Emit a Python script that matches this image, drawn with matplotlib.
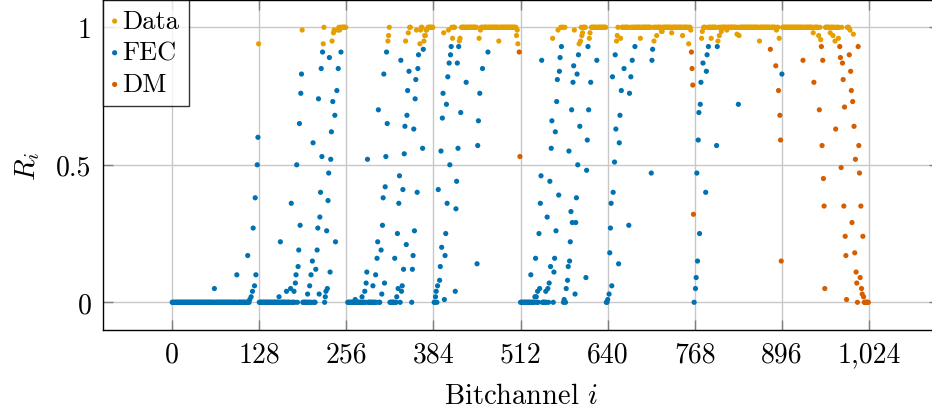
import numpy as np
import matplotlib
matplotlib.use("Agg")
import matplotlib.pyplot as plt

# ---- reliability of the N = 1024 bit-channels ----
N = 1024

# index ranges (inclusive) whose channels sit at R = 0 (frozen / FEC)
fec_zero_runs = [(0, 113), (128, 184), (189, 211), (222, 227), (258, 305),
                 (320, 329), (335, 335), (352, 352), (385, 390), (400, 400),
                 (512, 538), (544, 553), (560, 560), (575, 575), (578, 578),
                 (638, 639), (767, 767)]

# index ranges (inclusive) of data channels at R = 1
data_runs = [(249, 255), (376, 383), (411, 415), (425, 431), (433, 447),
             (457, 463), (465, 505), (604, 607), (616, 622), (625, 637),
             (661, 663), (665, 670), (677, 679), (681, 703), (709, 711),
             (713, 761), (781, 783), (789, 799), (805, 831), (834, 877),
             (880, 886), (897, 926), (928, 941), (944, 949), (960, 966),
             (968, 970)]

# individual data channels
data_idx = [127, 191, 222, 223, 235, 237, 238, 243, 245, 246, 247,
            317, 318, 319, 343, 347, 349, 350, 359, 364, 365, 366, 367, 370,
            371, 372, 373, 374, 399, 406, 412, 422, 423, 451, 453, 454, 455,
            480, 506, 507, 508, 559, 567, 571, 573, 574, 577, 591, 598, 600,
            601, 602, 603, 613, 614, 623, 653, 654, 655, 659, 673, 675, 688,
            707, 708, 712, 719, 720, 734, 750, 759, 762, 778, 779, 787, 792,
            802, 803, 804, 807, 815, 830, 833, 863, 878, 888, 889, 890, 892,
            942, 950, 952, 953, 967, 971, 972, 973, 974, 976, 977, 978, 979,
            980, 984, 992, 993, 994, 996, 1001]
data_val = [0.94, 0.99, 0.94, 1.0, 0.95, 0.98, 0.99, 0.99, 1.0, 0.99, 1.0,
            0.95, 0.97, 1.0, 0.95, 0.98, 1.0, 1.0, 0.99, 0.94, 0.99, 1.0, 1.0, 0.95,
            0.97, 0.97, 0.99, 0.99, 0.98, 0.99, 0.96, 0.95, 0.96, 0.96, 0.99, 1.0, 1.0,
            0.95, 0.97, 0.99, 0.94, 0.96, 0.99, 1.0, 1.0, 1.0, 1.0, 0.99, 0.94, 0.95,
            1.0, 0.97, 0.98, 0.96, 0.98, 1.0, 0.95, 0.97, 1.0, 0.96, 1.0, 1.0, 0.96,
            1.0, 0.95, 0.97, 0.985, 0.985, 0.98, 0.97, 0.94, 0.99, 0.96, 0.985, 1.0, 0.96,
            0.95, 1.0, 0.97, 0.985, 0.99, 0.975, 0.97, 0.95, 1.0, 0.99, 1.0, 1.0, 0.96,
            0.98, 0.97, 1.0, 0.955, 0.98, 0.97, 1.0, 1.0, 0.95, 1.0, 1.0, 1.0, 0.96,
            1.0, 1.0, 1.0, 1.0, 1.0, 0.99, 0.975]

# individual FEC channels with non-zero reliability
fec_idx = [62, 95, 111, 114, 116, 118, 119, 121, 122, 123, 125, 126,
           157, 159, 168, 174, 175, 179, 181, 182, 183, 185, 186, 187, 188, 189, 190,
           199, 202, 204, 206, 207, 211, 213, 214, 215, 216, 217, 218, 219, 220, 221,
           225, 226, 227, 228, 229, 230, 231, 232, 233, 234, 236, 239, 240, 242, 244, 248,
           269, 279, 283, 285, 286, 287, 295, 299, 301, 302, 303, 307, 308, 309, 310,
           311, 312, 313, 314, 315, 316,
           327, 330, 331, 332, 333, 334, 336, 337, 338, 339, 340, 341, 342, 344, 345,
           346, 348, 353, 354, 355, 356, 357, 358, 360, 361, 362, 368, 369,
           387, 388, 390, 391, 393, 394, 395, 396, 397, 398, 400, 401, 402, 403, 404,
           405, 407, 408, 409, 410, 416, 417, 418, 419, 420, 421, 424, 432, 448, 449,
           450, 452, 456, 464,
           527, 533, 534, 535, 537, 539, 540, 541, 542, 543, 549, 551, 552, 554, 555,
           556, 557, 558, 561, 562, 563, 564, 565, 566, 568, 569, 570, 572, 576, 579,
           581, 582, 583, 584, 585, 586, 587, 588, 589, 590, 592, 593, 594, 595, 596,
           597, 599, 608, 609, 610, 611, 612, 615, 624,
           640, 642, 643, 644, 645, 646, 647, 648, 650, 651, 652, 656, 657, 658, 660,
           664, 671, 672, 674, 676, 680, 704, 705, 706,
           769, 770, 771, 772, 773, 774, 775, 776, 777, 780, 784, 785, 786, 788, 800,
           801, 832, 896]
fec_val = [0.05, 0.10, 0.17, 0.01, 0.02, 0.04, 0.27, 0.06, 0.38, 0.10, 0.50, 0.60,
           0.02, 0.22, 0.04, 0.05, 0.36, 0.04, 0.07, 0.10, 0.50, 0.13, 0.19, 0.65, 0.28, 0.76, 0.83,
           0.03, 0.06, 0.10, 0.15, 0.58, 0.12, 0.19, 0.27, 0.74, 0.03, 0.31, 0.40, 0.85, 0.53, 0.91,
           0.02, 0.04, 0.26, 0.05, 0.37, 0.47, 0.89, 0.11, 0.52, 0.62, 0.73, 0.68, 0.22, 0.77, 0.85, 0.91,
           0.01, 0.02, 0.04, 0.07, 0.11, 0.52, 0.06, 0.10, 0.16, 0.22, 0.70, 0.19, 0.03, 0.28, 0.38,
           0.83, 0.07, 0.42, 0.53, 0.91, 0.65,
           0.16, 0.02, 0.25, 0.05, 0.36, 0.46, 0.88, 0.04, 0.06, 0.41, 0.12, 0.54, 0.64, 0.21, 0.68,
           0.77, 0.84, 0.12, 0.17, 0.63, 0.26, 0.74, 0.81, 0.40, 0.85, 0.90, 0.56, 0.92,
           0.02, 0.04, 0.06, 0.41, 0.08, 0.13, 0.55, 0.20, 0.67, 0.76, 0.01, 0.17, 0.25, 0.72, 0.36,
           0.82, 0.87, 0.50, 0.90, 0.93, 0.04, 0.34, 0.44, 0.87, 0.56, 0.93, 0.69, 0.80, 0.14, 0.57,
           0.66, 0.76, 0.85, 0.91,
           0.10, 0.02, 0.16, 0.02, 0.04, 0.25, 0.05, 0.36, 0.46, 0.88, 0.04, 0.31, 0.05, 0.07, 0.44,
           0.13, 0.56, 0.66, 0.11, 0.16, 0.62, 0.26, 0.73, 0.81, 0.39, 0.84, 0.89, 0.93, 0.01, 0.05,
           0.08, 0.13, 0.55, 0.15, 0.22, 0.33, 0.70, 0.29, 0.80, 0.86, 0.03, 0.29, 0.38, 0.83, 0.50,
           0.90, 0.64, 0.09, 0.48, 0.59, 0.93, 0.70, 0.80, 0.88,
           0.01, 0.03, 0.18, 0.27, 0.36, 0.06, 0.82, 0.40, 0.51, 0.90, 0.63, 0.14, 0.58, 0.68, 0.77,
           0.85, 0.28, 0.76, 0.82, 0.88, 0.93, 0.47, 0.88, 0.92,
           0.05, 0.09, 0.47, 0.15, 0.59, 0.69, 0.25, 0.72, 0.80, 0.87, 0.40, 0.84, 0.90, 0.93, 0.57,
           0.93, 0.72, 0.83]

# distribution-matcher channels
dm_idx = [510, 511, 763, 764, 765, 766, 879, 887, 891, 893, 894, 895, 927, 943,
          951, 954, 955, 956, 957, 958, 959, 975, 981, 982, 983, 985, 986, 987,
          988, 989, 990, 991, 995, 997, 998, 999, 1000, 1002, 1003, 1004, 1005,
          1006, 1007, 1008, 1009, 1010, 1011, 1012, 1013, 1014, 1015, 1016]
dm_val = [0.91, 0.53, 0.91, 0.85, 0.79, 0.32, 0.92, 0.86, 0.77, 0.68, 0.59, 0.15, 0.88, 0.80,
          0.70, 0.93, 0.57, 0.88, 0.45, 0.35, 0.05, 0.63, 0.93, 0.89, 0.49, 0.87, 0.81, 0.35,
          0.71, 0.24, 0.17, 0.01, 0.90, 0.84, 0.77, 0.29, 0.73, 0.64, 0.18, 0.52, 0.11,
          0.07, 0.00, 0.93, 0.57, 0.47, 0.09, 0.35, 0.05, 0.03, 0.24, 0.02]
dm_zero_runs = [(1017, 1023)]

# ---- assemble per-channel value and role ----
R = np.full(N, np.nan)
role = np.full(N, "", dtype=object)
for a, b in fec_zero_runs:
    R[a:b + 1] = 0.0
    role[a:b + 1] = "FEC"
for a, b in data_runs:
    R[a:b + 1] = 1.0
    role[a:b + 1] = "Data"
for idx, val, name in ((fec_idx, fec_val, "FEC"), (data_idx, data_val, "Data"),
                       (dm_idx, dm_val, "DM")):
    R[np.array(idx)] = val
    role[np.array(idx)] = name
for a, b in dm_zero_runs:
    R[a:b + 1] = 0.0
    role[a:b + 1] = "DM"

channels = np.arange(N)

# ---- style ----
plt.rcParams["font.family"] = "cmr10"
plt.rcParams["mathtext.fontset"] = "cm"
plt.rcParams["axes.formatter.use_mathtext"] = True

colors = {"Data": "#E69F00", "FEC": "#0072B2", "DM": "#D55E00"}

fig = plt.figure(figsize=(9.32, 4.14), dpi=100)
ax = fig.add_axes([102.5 / 932, 83.2 / 414, 836.2 / 932, 330.0 / 414])

for name in ("Data", "FEC", "DM"):
    m = role == name
    ax.scatter(channels[m], R[m], s=14, color=colors[name], edgecolors="none",
               label=name, zorder=3, clip_on=False)

ax.set_xlim(-102.4, 1126.4)
ax.set_ylim(-0.1, 1.1)

xticks = [0, 128, 256, 384, 512, 640, 768, 896, 1024]
xtick_labels = ["0", "128", "256", "384", "512", "640", "768", "896", "1,024"]
yticks = [0, 0.5, 1]
ytick_labels = ["0", "0.5", "1"]
ax.set_xticks(xticks)
ax.set_xticklabels(xtick_labels)
ax.set_yticks(yticks)
ax.set_yticklabels(ytick_labels)

ax.grid(True, color="#c8c8c8", linewidth=1.0, zorder=0)
ax.set_axisbelow(True)
ax.tick_params(direction="in", length=7.5, width=1.0, color="#7f7f7f",
               top=True, right=True, labelsize=20, pad=8)
for sp in ax.spines.values():
    sp.set_linewidth(1.0)
    sp.set_color("black")

ax.set_xlabel("Bitchannel $i$", fontsize=20.5, labelpad=11)
ax.set_ylabel("$R_i$", fontsize=20.5, labelpad=10)

leg = ax.legend(loc="upper left", bbox_to_anchor=(0, 1), borderaxespad=0,
                fontsize=19, frameon=True, fancybox=False, handlelength=0.2,
                handletextpad=0.2, borderpad=0.36, labelspacing=0.3,
                markerscale=1.0, scatterpoints=1)
leg.get_frame().set_edgecolor("black")
leg.get_frame().set_linewidth(1.0)
leg.set_zorder(5)

fig.savefig("out.png", dpi=100)
